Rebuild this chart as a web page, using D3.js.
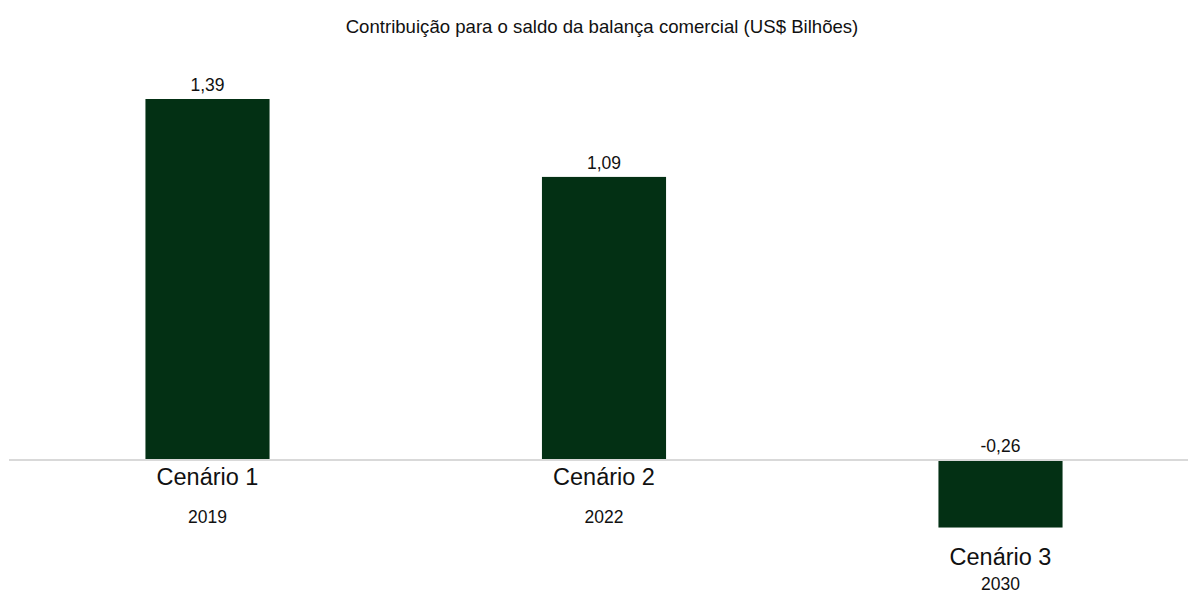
<!DOCTYPE html>
<html>
<head>
<meta charset="utf-8">
<script src="https://cdn.jsdelivr.net/npm/d3@7"></script>
<style>
  html, body { margin: 0; padding: 0; background: #fff; }
  svg { display: block; font-family: "Liberation Sans", Arial, Helvetica, sans-serif; }
</style>
</head>
<body>
<svg id="chart" width="1188" height="595"></svg>
<script>
// Contribution to the trade balance per scenario (US$ billions)
const categories = ["Cenário 1", "Cenário 2", "Cenário 3"];
const years = ["2019", "2022", "2030"];
const values = [1.39, 1.09, -0.26];
const title = "Contribuição para o saldo da balança comercial (US$ Bilhões)";

const W = 1188, H = 595;
const svg = d3.select("#chart");

const x = d3.scaleBand()
  .domain(categories)
  .range([9.25, 1198.75])
  .paddingInner(0.687)
  .paddingOuter(0.3435);

const y = d3.scaleLinear()
  .domain([0, 1.39])
  .range([460, 99]);

// Brazilian style: comma decimal, plain hyphen for negatives
const fmt = v => (v < 0 ? "-" : "") + d3.format(".2f")(Math.abs(v)).replace(".", ",");

// title
svg.append("text")
  .attr("x", 602)
  .attr("y", 33)
  .attr("text-anchor", "middle")
  .attr("font-size", 18.6)
  .attr("fill", "#111")
  .text(title);

// bars
svg.selectAll("rect.bar")
  .data(values)
  .join("rect")
  .attr("class", "bar")
  .attr("x", (d, i) => x(categories[i]))
  .attr("width", x.bandwidth())
  .attr("y", d => y(Math.max(0, d)))
  .attr("height", d => Math.abs(y(d) - y(0)))
  .attr("fill", "#033014");

// zero line
svg.append("line")
  .attr("x1", 9)
  .attr("x2", W)
  .attr("y1", y(0))
  .attr("y2", y(0))
  .attr("stroke", "#d9d9d9")
  .attr("stroke-width", 2);

// value labels
svg.selectAll("text.val")
  .data(values)
  .join("text")
  .attr("class", "val")
  .attr("x", (d, i) => x(categories[i]) + x.bandwidth() / 2)
  .attr("y", d => y(Math.max(0, d)) - 8)
  .attr("text-anchor", "middle")
  .attr("font-size", 17.5)
  .attr("fill", "#111")
  .text(d => fmt(d));

// category and year labels, placed under the bar or under the zero line
const labelBase = d => d < 0 ? y(d) + 37 : y(0) + 25;
const yearBase = d => d < 0 ? y(d) + 62 : y(0) + 63;

svg.selectAll("text.cat")
  .data(values)
  .join("text")
  .attr("class", "cat")
  .attr("x", (d, i) => x(categories[i]) + x.bandwidth() / 2)
  .attr("y", d => labelBase(d))
  .attr("text-anchor", "middle")
  .attr("font-size", 23.5)
  .attr("fill", "#111")
  .text((d, i) => categories[i]);

svg.selectAll("text.year")
  .data(values)
  .join("text")
  .attr("class", "year")
  .attr("x", (d, i) => x(categories[i]) + x.bandwidth() / 2)
  .attr("y", d => yearBase(d))
  .attr("text-anchor", "middle")
  .attr("font-size", 17.5)
  .attr("fill", "#111")
  .text((d, i) => years[i]);
</script>
</body>
</html>
